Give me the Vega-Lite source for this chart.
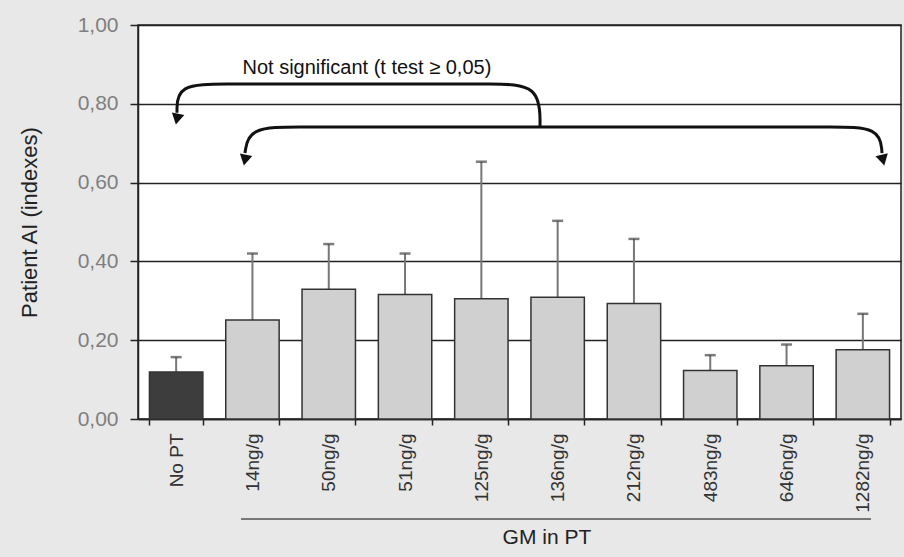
{
  "$schema": "https://vega.github.io/schema/vega-lite/v6.json",
  "width": 763,
  "height": 394,
  "autosize": {"type": "none"},
  "padding": {"left": 138, "top": 25, "right": 3, "bottom": 138},
  "background": "#e8e8e8",
  "config": {
    "font": "Liberation Sans",
    "view": {"fill": "#ffffff", "stroke": "#222222", "strokeWidth": 1.5}
  },
  "layer": [
    {
      "data": {
        "values": [
          {"group": "No PT", "type": "No PT", "value": 0.119, "err": 0.157},
          {"group": "14ng/g", "type": "GM in PT", "value": 0.251, "err": 0.420},
          {"group": "50ng/g", "type": "GM in PT", "value": 0.329, "err": 0.444},
          {"group": "51ng/g", "type": "GM in PT", "value": 0.316, "err": 0.420},
          {"group": "125ng/g", "type": "GM in PT", "value": 0.305, "err": 0.653},
          {"group": "136ng/g", "type": "GM in PT", "value": 0.309, "err": 0.503},
          {"group": "212ng/g", "type": "GM in PT", "value": 0.293, "err": 0.457},
          {"group": "483ng/g", "type": "GM in PT", "value": 0.123, "err": 0.162},
          {"group": "646ng/g", "type": "GM in PT", "value": 0.135, "err": 0.189},
          {"group": "1282ng/g", "type": "GM in PT", "value": 0.176, "err": 0.267}
        ]
      },
      "encoding": {
        "x": {
          "field": "group", "type": "nominal", "sort": null,
          "scale": {"paddingInner": 0.3, "paddingOuter": 0.15},
          "axis": {
            "title": null, "labelAngle": -90, "labelFontSize": 19, "labelColor": "#333333",
            "tickBand": "extent", "tickSize": 6, "tickWidth": 1.5, "tickColor": "#222222",
            "domainColor": "#222222", "domainWidth": 1.5, "labelPadding": 8
          }
        }
      },
      "layer": [
        {
          "mark": {"type": "rule", "color": "#777777", "strokeWidth": 2},
          "encoding": {
            "y": {"field": "value", "type": "quantitative"},
            "y2": {"field": "err"}
          }
        },
        {
          "mark": {"type": "tick", "color": "#444444", "thickness": 2.5, "size": 11},
          "encoding": {"y": {"field": "err", "type": "quantitative"}}
        },
        {
          "mark": {"type": "bar", "stroke": "#333333", "strokeWidth": 1.5},
          "encoding": {
            "y": {
              "field": "value", "type": "quantitative",
              "scale": {"domain": [0, 1], "nice": false},
              "axis": {
                "title": "Patient AI (indexes)", "titleFontSize": 22, "titleFontWeight": "normal",
                "titleColor": "#222222", "titlePadding": 36,
                "values": [0, 0.2, 0.4, 0.6, 0.8, 1],
                "labelExpr": "replace(format(datum.value, '.2f'), '.', ',')",
                "labelFontSize": 21, "labelColor": "#7f7f7f", "labelPadding": 12,
                "tickSize": 8, "tickWidth": 1.5, "tickColor": "#222222",
                "domainColor": "#222222", "domainWidth": 1.5,
                "grid": true, "gridColor": "#222222", "gridWidth": 1.5, "gridOpacity": 1
              }
            },
            "color": {
              "field": "type", "type": "nominal",
              "scale": {"domain": ["No PT", "GM in PT"], "range": ["#3d3d3d", "#d0d0d0"]},
              "legend": null
            }
          }
        }
      ]
    },
    {
      "layer": [
        {
          "data": {
            "values": [
              {"path": "a", "seq": 1, "u": 5.269, "v": 0.741},
              {"path": "a", "seq": 2, "u": 5.269, "v": 0.850},
              {"path": "a", "seq": 3, "u": 4.613, "v": 0.850},
              {"path": "a", "seq": 4, "u": 3.958, "v": 0.850},
              {"path": "a", "seq": 5, "u": 1.822, "v": 0.850},
              {"path": "a", "seq": 6, "u": 1.166, "v": 0.850},
              {"path": "a", "seq": 7, "u": 0.511, "v": 0.850},
              {"path": "a", "seq": 8, "u": 0.511, "v": 0.777},
              {"path": "b", "seq": 1, "u": 1.402, "v": 0.675},
              {"path": "b", "seq": 2, "u": 1.455, "v": 0.741},
              {"path": "b", "seq": 3, "u": 2.123, "v": 0.741},
              {"path": "b", "seq": 4, "u": 2.779, "v": 0.741},
              {"path": "b", "seq": 5, "u": 8.414, "v": 0.741},
              {"path": "b", "seq": 6, "u": 9.069, "v": 0.741},
              {"path": "b", "seq": 7, "u": 9.725, "v": 0.741},
              {"path": "b", "seq": 8, "u": 9.751, "v": 0.675}
            ]
          },
          "mark": {"type": "line", "interpolate": "basis", "color": "#111111", "strokeWidth": 3, "clip": false},
          "encoding": {
            "x": {"field": "u", "type": "quantitative", "scale": {"domain": [0, 10], "nice": false, "zero": false}, "axis": null},
            "y": {"field": "v", "type": "quantitative"},
            "detail": {"field": "path"},
            "order": {"field": "seq"}
          }
        },
        {
          "data": {
            "values": [
              {"u": 0.511, "v": 0.761},
              {"u": 1.402, "v": 0.657},
              {"u": 9.764, "v": 0.657}
            ]
          },
          "mark": {"type": "point", "shape": "triangle-down", "filled": true, "size": 160, "color": "#111111", "opacity": 1, "clip": false},
          "encoding": {
            "x": {"field": "u", "type": "quantitative"},
            "y": {"field": "v", "type": "quantitative"},
            "angle": {"condition": {"test": "datum.u > 5", "value": -14}, "value": 12}
          }
        },
        {
          "data": {"values": [{"u": 3.0, "v": 0.891, "label": "Not significant (t test ≥ 0,05)"}]},
          "mark": {"type": "text", "fontSize": 20, "color": "#111111", "baseline": "middle", "align": "center", "clip": false},
          "encoding": {
            "x": {"field": "u", "type": "quantitative"},
            "y": {"field": "v", "type": "quantitative"},
            "text": {"field": "label"}
          }
        },
        {
          "data": {"values": [{"u": 1.35, "u2": 9.607, "v": -0.254}]},
          "mark": {"type": "rule", "color": "#777777", "strokeWidth": 2, "clip": false},
          "encoding": {
            "x": {"field": "u", "type": "quantitative"},
            "x2": {"field": "u2"},
            "y": {"field": "v", "type": "quantitative"}
          }
        },
        {
          "data": {"values": [{"u": 5.36, "v": -0.302, "label": "GM in PT"}]},
          "mark": {"type": "text", "fontSize": 21, "color": "#222222", "baseline": "middle", "align": "center", "clip": false},
          "encoding": {
            "x": {"field": "u", "type": "quantitative"},
            "y": {"field": "v", "type": "quantitative"},
            "text": {"field": "label"}
          }
        }
      ]
    }
  ],
  "resolve": {"scale": {"x": "independent"}}
}
